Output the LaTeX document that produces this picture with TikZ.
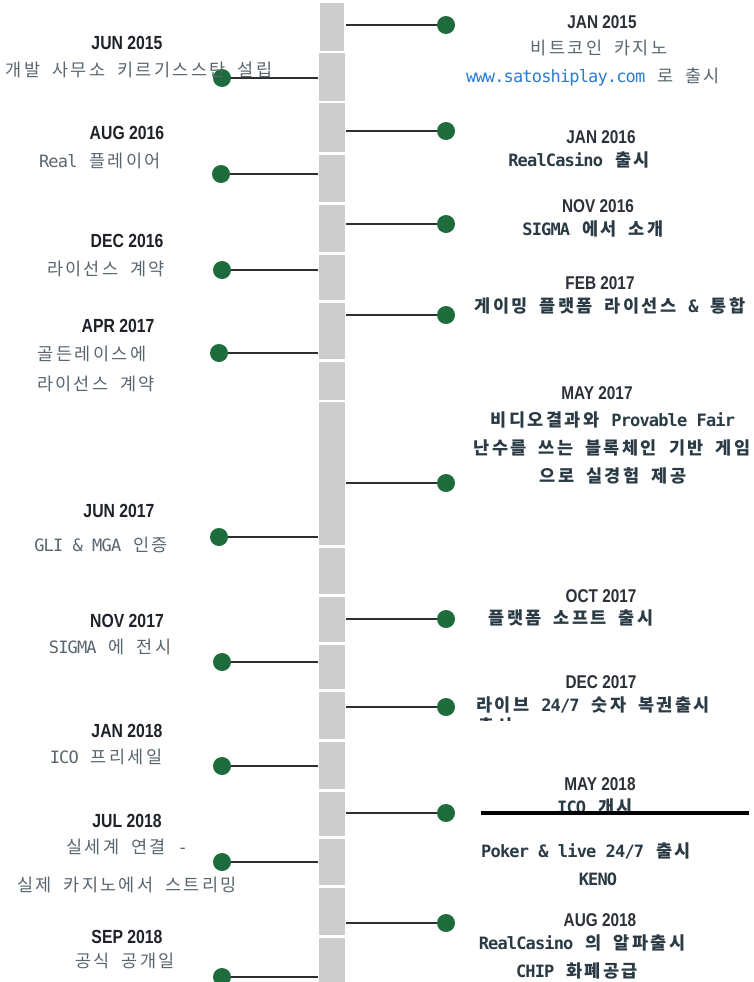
\documentclass[tikz,border=0pt]{standalone}
\usepackage{fontspec}
\usepackage{graphicx}
\newfontfamily\krfontA{Noto Sans CJK KR}[LetterSpace=13.5,WordSpace=1.9]
\newfontfamily\krmonoF{DejaVu Sans Mono}[Scale=0.971,LetterSpace=-5]
\newfontfamily\krdateF{Liberation Sans}
\newcommand\lat[1]{{\krmonoF #1}}
\newcommand\dt[1]{\scalebox{0.83}[1]{#1}}
\definecolor{bargray}{HTML}{CDCDCD}
\definecolor{linec}{HTML}{2E2E2E}
\definecolor{dotc}{HTML}{1E6B3B}
\definecolor{ltxt}{HTML}{5A666E}
\definecolor{rtxt}{HTML}{2A3B45}
\definecolor{datec}{HTML}{1F2329}
\definecolor{rdatec}{HTML}{2C3138}
\definecolor{urlc}{HTML}{2B7BD6}
\tikzset{
  barseg/.style={fill=bargray},
  conn/.style={draw=linec,line width=2.6bp},
  gdot/.style={circle,fill=dotc,inner sep=0,minimum size=18bp},
  ltext/.style={font=\krfontA\fontsize{17.5bp}{20bp}\selectfont,text=ltxt,inner sep=0,text height=14.5bp,text depth=1.2bp},
  rltext/.style={ltext},
  rtext/.style={font=\krfontA\bfseries\fontsize{17.5bp}{20bp}\selectfont,text=rtxt,inner sep=0,text height=14.5bp,text depth=1.2bp},
  ldate/.style={font=\krdateF\bfseries\fontsize{19bp}{22bp}\selectfont,text=datec,inner sep=0,text height=13.6bp,text depth=0bp},
  rdate/.style={font=\krdateF\bfseries\fontsize{18.5bp}{22bp}\selectfont,text=rdatec,inner sep=0,text height=13.3bp,text depth=0bp},
}
\begin{document}
\begin{tikzpicture}[x=1bp,y=-1bp]
\fill[white] (0,0) rectangle (754,982);
\useasboundingbox (0,0) rectangle (754,982);
% central bar segments
\fill[barseg] (320,3) rectangle (344,51);
\foreach \a/\b in {53/101,103/152,155/202,205/252,255/300,303/359,362/400,402/545,548/594,597/642,645/689,692/739,742/789,792/836,839/885,888/935,938/990}
  {\fill[barseg] (319,\a) rectangle (345,\b);}
% right dots and connectors
\foreach \n/\y in {1/25,2/131,3/224,4/315,5/483,6/619,7/707,8/813,9/923}{
  \coordinate (eR\n) at (346,\y);
  \node[gdot] (dR\n) at (446,\y) {};
  \draw[conn] (eR\n) -- (dR\n);
}
% left dots and connectors
\foreach \n/\x/\y in {1/222/78,2/221/174,3/222/270,4/219/353,5/219/537,6/222/662,7/222/766,8/222/862,9/222/977}{
  \coordinate (eL\n) at (318,\y);
  \node[gdot] (dL\n) at (\x,\y) {};
  \draw[conn] (eL\n) -- (dL\n);
}
% left labels
\node[ldate] (l1d) at (127,43) {\dt{JUN 2015}};
\node[ltext] (l1a) at (139,70) {개발 사무소 키르기스스탄 설립};
\node[ldate] (l2d) at (127,133) {\dt{AUG 2016}};
\node[ltext] (l2a) at (100,161) {\lat{Real} 플레이어};
\node[ldate] (l3d) at (127,241) {\dt{DEC 2016}};
\node[ltext] (l3a) at (106,269) {라이선스 계약};
\node[ldate] (l4d) at (118,326) {\dt{APR 2017}};
\node[ltext] (l4a) at (92,354) {골든레이스에};
\node[ltext] (l4b) at (96,384) {라이선스 계약};
\node[ldate] (l5d) at (119,511) {\dt{JUN 2017}};
\node[ltext] (l5a) at (101,545) {\lat{GLI \& MGA} 인증};
\node[ldate] (l6d) at (127,621) {\dt{NOV 2017}};
\node[ltext] (l6a) at (110,647) {\lat{SIGMA} 에 전시};
\node[ldate] (l7d) at (127,731) {\dt{JAN 2018}};
\node[ltext] (l7a) at (106,757) {\lat{ICO} 프리세일};
\node[ldate] (l8d) at (127,821) {\dt{JUL 2018}};
\node[ltext] (l8a) at (127,847) {실세계 연결 \lat{-}};
\node[ltext] (l8b) at (127,885) {실제 카지노에서 스트리밍};
\node[ldate] (l9d) at (127,937) {\dt{SEP 2018}};
\node[ltext] (l9a) at (125,961) {공식 공개일};
% right labels
\node[rdate] (r1d) at (602,22) {\dt{JAN 2015}};
\node[rltext] (r1a) at (599,48) {비트코인 카지노};
\node[rltext] (r1b) at (593,76) {{\color{urlc}\lat{www.satoshiplay.com}} 로 출시};
\node[rdate] (r2d) at (601,137) {\dt{JAN 2016}};
\node[rtext] (r2a) at (579,160) {\lat{RealCasino} 출시};
\node[rdate] (r3d) at (598,206) {\dt{NOV 2016}};
\node[rtext] (r3a) at (593,229) {\lat{SIGMA} 에서 소개};
\node[rdate] (r4d) at (600,283) {\dt{FEB 2017}};
\node[rtext] (r4a) at (610,306) {게이밍 플랫폼 라이선스 \lat{\&} 통합};
\node[rdate] (r5d) at (597,393) {\dt{MAY 2017}};
\node[rtext] (r5a) at (613,420) {비디오결과와 \lat{Provable Fair}};
\node[rtext] (r5b) at (612,448) {난수를 쓰는 블록체인 기반 게임};
\node[rtext] (r5c) at (613,476) {으로 실경험 제공};
\node[rdate] (r6d) at (601,596) {\dt{OCT 2017}};
\node[rtext] (r6a) at (571,618) {플랫폼 소프트 출시};
\node[rdate] (r7d) at (601,682) {\dt{DEC 2017}};
\node[rtext] (r7a) at (593,705) {라이브 \lat{24/7} 숫자 복권출시};
\begin{scope}
\clip (470,714) rectangle (540,720);
\node[rtext,anchor=west] (r7b) at (478,726) {출시};
\end{scope}
\node[rdate] (r8d) at (600,784) {\dt{MAY 2018}};
\node[rtext] (r8a) at (595,807) {\lat{ICO} 개시};
\coordinate (bl1) at (481,813);
\coordinate (bl2) at (749,813);
\draw[black,line width=4bp] (bl1) -- (bl2);
\node[rtext] (r8b) at (586,851) {\lat{Poker \& live 24/7} 출시};
\node[rtext] (r8c) at (598,879) {\lat{KENO}};
\node[rdate] (r9d) at (600,920) {\dt{AUG 2018}};
\node[rtext] (r9a) at (582,943) {\lat{RealCasino} 의 알파출시};
\node[rtext] (r9b) at (577,971) {\lat{CHIP} 화폐공급};
\end{tikzpicture}
\end{document}
